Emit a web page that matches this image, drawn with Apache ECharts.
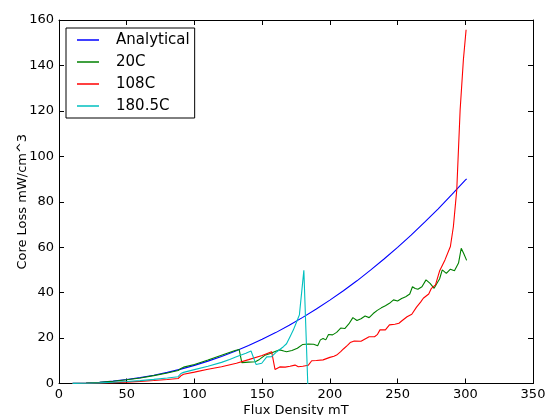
<!DOCTYPE html>
<html>
<head>
<meta charset="utf-8">
<script src="https://cdn.jsdelivr.net/npm/echarts@6/dist/echarts.min.js"></script>
<style>
  html, body { margin: 0; padding: 0; background: #fff; }
  #chart { width: 547px; height: 415px; }
</style>
</head>
<body>
<div id="chart"></div>
<script>
// Flux density (mT) and core loss (mW/cm^3) for each curve
const analyticalB = [10, 20, 30, 40, 50, 60, 70, 80, 90, 100, 110, 120, 130, 140, 150, 160, 170, 180, 190, 200, 210, 220, 230, 240, 250, 260, 270, 280, 290, 300, 301];
const analyticalLoss = [0.05, 0.23, 0.56, 1.06, 1.74, 2.59, 3.64, 4.89, 6.33, 7.98, 9.85, 11.92, 14.2, 16.7, 19.5, 22.4, 25.6, 29.1, 32.8, 36.7, 40.8, 45.2, 49.9, 54.8, 59.9, 65.3, 71.0, 76.9, 83.1, 89.5, 90.1];

const b20 = [10, 20, 30, 40, 50, 60, 70, 80, 88, 90, 92, 100, 110, 120, 130, 133, 135, 140, 145, 148, 152, 156, 160, 163, 166, 168, 172, 176, 180, 184, 188, 191, 193, 195, 197, 199, 202, 205, 208, 211, 214, 217, 220, 223, 226, 229, 232, 235, 238, 241, 244, 247, 250, 253, 256, 259, 261, 263, 265, 268, 271, 274, 277, 279, 281, 283, 286, 289, 292, 295, 297, 299, 301];
const loss20 = [0.05, 0.22, 0.53, 1.0, 1.65, 2.45, 3.45, 4.65, 5.7, 6.6, 7.2, 8.4, 10.3, 12.4, 14.5, 15.0, 9.2, 9.4, 9.6, 10.6, 12.4, 13.2, 14.2, 14.8, 14.3, 14.0, 14.5, 15.5, 17.2, 17.4, 17.3, 16.6, 19.2, 19.8, 19.2, 21.6, 21.4, 22.5, 24.4, 24.2, 26.2, 29.0, 27.7, 28.5, 29.7, 29.0, 30.8, 32.2, 33.3, 34.2, 35.3, 36.8, 36.3, 37.4, 38.2, 39.4, 42.6, 41.8, 41.5, 42.6, 45.6, 44.1, 41.9, 44.0, 46.0, 50.0, 48.5, 50.3, 49.6, 53.0, 59.5, 57.0, 54.2];

const b108 = [10, 20, 30, 40, 50, 60, 70, 80, 88, 90, 92, 100, 110, 120, 131, 140, 150, 157, 159.5, 163, 167, 170.6, 174.3, 176.7, 180, 184, 186.6, 190, 195, 200, 203, 205, 208, 210, 213, 215, 218, 223, 226, 229, 233, 235, 237, 241, 244, 248, 251, 253, 257, 260.5, 264, 267, 269, 273, 275, 278, 281, 285, 289, 291.2, 293.7, 296.2, 298.6, 300.6];
const loss108 = [0.02, 0.09, 0.2, 0.38, 0.62, 0.93, 1.3, 1.76, 2.2, 3.4, 4.1, 5.0, 6.3, 7.4, 8.9, 10.5, 12.3, 14.0, 6.2, 7.3, 7.2, 7.6, 8.1, 7.4, 7.6, 8.0, 10.0, 10.1, 10.4, 11.5, 12.0, 12.5, 14.0, 15.2, 16.8, 18.0, 18.7, 18.6, 19.6, 20.6, 20.6, 21.5, 23.6, 23.6, 25.8, 26.1, 26.5, 27.5, 29.4, 30.5, 33.6, 35.8, 37.5, 39.4, 41.9, 43.4, 49.5, 54.4, 60.3, 69.0, 85.2, 120.5, 142.5, 155.7];

const b180 = [10, 20, 30, 40, 50, 60, 70, 80, 88, 90, 92, 100, 110, 120, 126, 131, 134, 138, 141.8, 145.5, 149.7, 153.4, 157, 160.8, 165.7, 168, 170.6, 173, 175.5, 177.5, 180.8, 183.8];
const loss180 = [0.03, 0.12, 0.28, 0.52, 0.85, 1.27, 1.8, 2.45, 3.0, 4.4, 4.9, 6.1, 7.6, 9.3, 10.6, 11.8, 12.4, 13.3, 14.3, 8.4, 8.9, 11.7, 11.8, 14.0, 16.2, 17.5, 20.6, 23.5, 27.2, 30.2, 49.8, -2];

const xTicks = { min: 0, max: 350, interval: 50 };
const yTicks = { min: 0, max: 160, interval: 20 };

const zip = (xs, ys) => xs.map((x, i) => [x, ys[i]]);

const font = 'DejaVu Sans, sans-serif';

function makeSeries(name, xs, ys, color) {
  return {
    name: name,
    type: 'line',
    data: zip(xs, ys),
    showSymbol: false,
    symbol: 'none',
    clip: true,
    lineStyle: { color: color, width: 1.1 },
    itemStyle: { color: color },
    animation: false
  };
}

const axisCommon = {
  type: 'value',
  splitLine: { show: false },
  axisLine: { show: true, onZero: false, lineStyle: { color: '#000', width: 1 } },
  axisTick: { show: true, inside: true, length: 5, lineStyle: { color: '#000', width: 1 } }
};

const chart = echarts.init(document.getElementById('chart'), null, { renderer: 'canvas' });
chart.setOption({
  animation: false,
  backgroundColor: '#fff',
  grid: { left: 59, right: 14, top: 20, bottom: 31.5, containLabel: false, outerBoundsMode: 'none' },
  legend: {
    orient: 'vertical',
    left: 66,
    top: 28,
    backgroundColor: '#fff',
    borderColor: '#000',
    borderWidth: 1,
    borderRadius: 0,
    padding: [3, 5, 3, 11],
    itemGap: 4,
    itemWidth: 22,
    itemHeight: 1.5,
    icon: 'rect',
    textStyle: { fontFamily: font, fontSize: 15, color: '#000', lineHeight: 18, padding: [0, 0, 0, 12] },
    data: ['Analytical', '20C', '108C', '180.5C']
  },
  xAxis: [
    Object.assign({}, axisCommon, xTicks, {
      position: 'bottom',
      name: 'Flux Density mT',
      nameLocation: 'middle',
      nameGap: 21,
      nameMoveOverlap: false,
      nameTextStyle: { fontFamily: font, fontSize: 13, color: '#000' },
      axisLabel: { fontFamily: font, fontSize: 13, color: '#000', margin: 5 }
    }),
    Object.assign({}, axisCommon, xTicks, {
      position: 'top',
      axisLabel: { show: false }
    })
  ],
  yAxis: [
    Object.assign({}, axisCommon, yTicks, {
      position: 'left',
      name: 'Core Loss mW/cm^3',
      nameLocation: 'middle',
      nameGap: 30,
      nameMoveOverlap: false,
      nameTextStyle: { fontFamily: font, fontSize: 13, color: '#000' },
      axisLabel: { fontFamily: font, fontSize: 13, color: '#000', margin: 5 }
    }),
    Object.assign({}, axisCommon, yTicks, {
      position: 'right',
      axisLabel: { show: false }
    })
  ],
  series: [
    makeSeries('Analytical', analyticalB, analyticalLoss, '#0000ff'),
    makeSeries('20C', b20, loss20, '#008000'),
    makeSeries('108C', b108, loss108, '#ff0000'),
    makeSeries('180.5C', b180, loss180, '#00bfbf')
  ]
});
</script>
</body>
</html>
